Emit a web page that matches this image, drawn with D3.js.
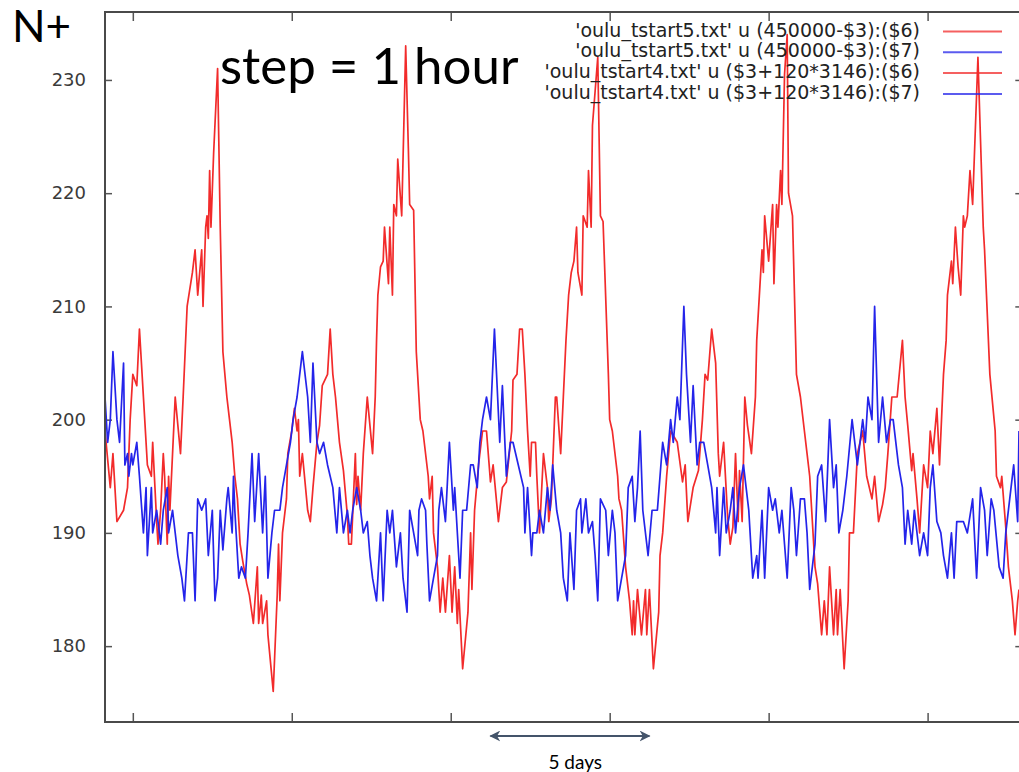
<!DOCTYPE html>
<html>
<head>
<meta charset="utf-8">
<script src="https://cdn.jsdelivr.net/npm/d3@7"></script>
<style>
  body { margin: 0; background: #fff; }
  svg { display: block; }
</style>
</head>
<body>
<svg id="chart" width="1019" height="772"></svg>
<script>
// [hour, N+], step = 1 hour
const red5 = [[0,199],[4,194],[6,197],[9,191],[14,192],[17,194],[19,200],[21,204],[24,203],[26,208],[30,200],[32,196],[35,195],[36,198],[39,191],[40,189],[42,192],[44,197],[45,195],[47,189],[48,195],[49,192],[51,197],[53,202],[57,197],[59,202],[62,210],[66,213],[68,215],[70,211],[73,215],[74,210],[76,217],[77,218],[78,216],[79,222],[80,217],[82,223.5],[85,231],[87,217],[89,206],[92,202],[94,200],[96,198],[98,195],[100,193],[102,189],[104,187.5],[107,185.5],[109,184.5],[112,182],[115,187],[116,182],[118,184.5],[119,182],[122,184],[123,181],[127,176],[130,184.5],[131,189],[132,184],[134,190],[137,193],[138,197],[141,199],[143,201],[145,199],[146,200],[147,195],[149,197],[153,192],[155,191],[157,194],[160,198],[162,199.5],[164,203],[168,204],[170,208],[172,204],[174,202],[177,198],[180,195.5],[183,191.5],[184,189],[186,189],[189,197],[190,192.5],[191,195],[193,192],[195,197],[198,202],[200,199.5],[202,197],[204,202],[205,207],[206,211],[208,213.5],[210,214],[211,217],[214,212],[215,217],[217,211],[218,219],[220,218],[221,223],[224,218],[227,233],[229,224],[230,219],[233,218.5],[235,206],[238,200],[240,199],[244,195],[245,193],[247,195],[248,190],[251,187],[253,183],[255,186],[257,183],[260,188],[262,183],[264,187],[266,182],[267,185],[270,178],[274,183],[276,190],[277,185],[279,192],[282,196],[285,199],[288,199],[291,194.5],[293,196],[297,191],[300,194],[303,194.5],[307,199],[308,203.5],[311,204],[313,208],[315,208],[317,204],[319,199],[321,195],[322,198],[325,198],[326,195],[328,190],[331,197],[334,194],[335,191],[337,193],[340,202],[341,202],[344,197],[346,202]];

const blue5 = [[0,202],[2,198],[4,200],[6,206],[9,200],[11,198],[14,205],[15,196],[17,197],[18,195],[20,197],[21,196],[24,198],[26,195],[29,190],[31,194],[32,188],[35,194],[36,190],[39,192],[42,189],[44,192],[47,194],[48,190],[51,192],[53,190],[55,188],[58,186],[60,184],[63,190],[66,190],[68,184],[70,193],[73,192],[76,193],[78,188],[81,192],[83,184],[85,186],[87,192],[89,188.5],[92,193],[93,194],[96,190],[97,195],[98,192],[101,186],[103,187],[106,186],[108,190],[111,197],[113,191],[116,197],[119,190],[121,195],[123,186],[126,190],[128,192],[132,192],[134,194],[137,196],[140,198],[142,200],[145,202],[147,204],[149,206],[153,202],[155,198],[157,205],[160,198],[162,197],[165,198],[168,196],[170,195],[172,194],[175,190],[177,194],[180,190],[183,192],[185,190],[187,192],[190,194],[193,192],[195,190],[198,191],[200,188],[202,186],[205,184],[208,190],[210,184],[213,192],[215,190],[217,192],[220,187],[223,190],[225,186],[228,183],[230,192],[233,190],[236,188],[237,192],[239,193],[242,192],[243,189],[245,184],[248,186],[251,188],[252,192],[254,194],[257,191],[260,198],[263,192],[264,194],[268,186],[270,192],[273,192],[276,196],[278,196],[281,194],[283,198],[285,200],[288,202],[291,200],[294,208],[298,198],[300,203],[303,195],[306,198],[308,198],[312,196],[316,194],[317,190],[319,194],[322,188],[323,190],[326,190],[328,192],[331,190],[334,194],[336,192],[338,196],[341,192],[344,190],[346,186]];

const red4 = [[346,202],[348,207],[350,211],[352,213],[354,214],[356,217],[357,213],[360,211],[361,218],[364,217],[365,222],[367,217],[368,226],[372,232],[374,218],[376,217.5],[380,204],[381,200],[383,199],[387,195],[388,193],[390,192],[393,187],[394,186],[396,184],[398,181],[399,184],[400,181],[402,185],[405,181],[408,185],[409,181],[411,185],[414,178],[418,183],[419,188],[421,190],[424,195],[427,199],[432,198],[436,194.5],[438,196],[440,191],[444,194],[448,195.5],[451,200],[453,204],[455,203.5],[458,208],[461,205],[463,197],[464,195],[467,198],[470,191.5],[472,189],[474,190.5],[476,197],[478,191],[479,195.5],[481,191],[483,202],[485,199.5],[488,197],[491,202],[492,207],[494,211],[496,215],[497,213],[498,218],[501,214],[504,219],[505,212],[507,219],[508,217],[510,222],[511,219],[513,230.5],[515,234],[516,220],[519,218],[522,204],[525,202],[528,199],[530,197],[532,195],[534,191],[536,187],[538,185.5],[541,181],[543,184],[545,181],[547,187],[550,181],[552,185],[553,181],[555,185],[558,178],[561,184],[562,190],[565,190],[568,197],[570,198],[572,199],[575,195],[579,193],[581,195],[584,191],[587,192.5],[589,194],[591,197],[594,202],[598,202],[602,207],[604,202],[606,199.5],[609,195.5],[610,197],[613,193],[615,190],[618,196],[621,194],[623,199],[625,197],[628,201],[630,196],[633,204],[635,207],[636,211],[639,214],[640,212],[642,217],[644,213.5],[646,211],[648,218],[649,217],[651,218],[653,222],[655,219],[659,232],[663,217],[664,215],[668,204],[672,199],[673,195],[676,194],[677,195],[680,190.5],[682,187],[685,184],[687,181],[689,184],[690,185]];

const blue4 = [[346,186],[349,184],[351,190],[354,185],[356,192],[359,193],[360,190],[363,193],[365,190],[368,191],[370,188],[372,184],[374,193],[378,192],[380,188],[383,192],[385,190],[387,184],[390,186],[393,188],[395,194],[398,195],[400,191],[402,194],[404,199],[406,192],[410,188],[413,192],[417,192],[419,195],[421,198],[424,196],[427,200],[429,198],[432,202],[434,200],[437,210],[439,204],[442,198],[444,203],[447,196],[449,198],[452,198],[455,196],[458,194],[461,190],[462,194],[464,188],[467,194],[469,190],[472,192],[474,194],[476,190],[479,194],[482,196],[484,194],[486,192],[489,186],[492,188],[493,186],[496,192],[498,186],[501,194],[504,192],[506,193],[509,190],[511,192],[513,189],[515,186],[518,194],[520,192],[522,188],[525,193],[528,193],[530,190],[532,185],[536,189],[538,195],[541,196],[544,191],[547,200],[550,194],[552,196],[554,190],[557,192],[560,195],[564,200],[566,198],[568,196],[572,200],[574,198],[576,202],[579,200],[581,210],[584,198],[587,202],[590,198],[593,200],[595,200],[599,196],[602,194],[604,189],[606,192],[609,189],[611,192],[615,188],[618,190],[621,188],[623,194],[625,196],[628,191],[631,190],[633,188],[636,186],[639,190],[641,186],[643,191],[648,191],[651,190],[655,193],[658,186],[661,194],[664,192],[666,188],[669,193],[671,192],[675,187],[678,186],[680,190],[683,193],[686,196],[689,191],[690,199]];

const yTicks = [180, 190, 200, 210, 220, 230];
const xTicks = [21, 141, 261, 381, 501, 621];   // every 5 days
const legendLabels = [
  "'oulu_tstart5.txt' u (450000-$3):($6)",
  "'oulu_tstart5.txt' u (450000-$3):($7)",
  "'oulu_tstart4.txt' u ($3+120*3146):($6)",
  "'oulu_tstart4.txt' u ($3+120*3146):($7)"
];
const spanDays = [291, 411];  // "5 days" arrow, in hours

const RED = "#f22b2b", BLUE = "#2424ea";
const series = [
  { data: red5, color: RED },
  { data: blue5, color: BLUE },
  { data: red4, color: RED },
  { data: blue4, color: BLUE }
];

const svg = d3.select("#chart");
const plotLeft = 105, plotTop = 12, plotBottom = 722;
const gnuFont = "'DejaVu Sans', sans-serif";

const x = d3.scaleLinear().domain([0, 690]).range([plotLeft, 1019]);
const y = d3.scaleLinear().domain([173.3, 236]).range([plotBottom, plotTop]);
const plotRight = x(694);

svg.append("clipPath").attr("id", "clip")
  .append("rect")
  .attr("x", plotLeft).attr("y", plotTop)
  .attr("width", plotRight - plotLeft).attr("height", plotBottom - plotTop);

// axes (ticks point inwards, gnuplot style)
const tickStyle = g => {
  g.select(".domain").remove();
  g.selectAll(".tick line").attr("stroke", "#555").attr("stroke-width", 1.5);
  g.selectAll(".tick text")
    .attr("fill", "#3a3a3a")
    .style("font-family", gnuFont)
    .style("font-size", "18px");
};

svg.append("g")
  .attr("transform", `translate(${plotLeft},0)`)
  .call(d3.axisLeft(y).tickValues(yTicks).tickSize(-7).tickPadding(19))
  .call(tickStyle);

svg.append("g")
  .attr("transform", `translate(${plotRight},0)`)
  .call(d3.axisRight(y).tickValues(yTicks).tickSize(-9).tickFormat(""))
  .call(tickStyle);

svg.append("g")
  .attr("transform", `translate(0,${plotBottom})`)
  .call(d3.axisBottom(x).tickValues(xTicks).tickSize(-9).tickFormat(""))
  .call(tickStyle);

svg.append("g")
  .attr("transform", `translate(0,${plotTop})`)
  .call(d3.axisTop(x).tickValues(xTicks).tickSize(-9).tickFormat(""))
  .call(tickStyle);

// lines
const line = d3.line().x(d => x(d[0])).y(d => y(d[1]));
svg.append("g").attr("clip-path", "url(#clip)")
  .selectAll("path")
  .data(series)
  .join("path")
  .attr("d", d => line(d.data))
  .attr("fill", "none")
  .attr("stroke", d => d.color)
  .attr("stroke-width", 1.7)
  .attr("stroke-linejoin", "round");

// frame
svg.append("rect")
  .attr("x", plotLeft).attr("y", plotTop)
  .attr("width", plotRight - plotLeft).attr("height", plotBottom - plotTop)
  .attr("fill", "none")
  .attr("stroke", "#4a4a4a")
  .attr("stroke-width", 2);

// legend
const legend = svg.append("g");
legendLabels.forEach((label, i) => {
  const ry = 31.5 + i * 20.8;
  legend.append("text")
    .attr("x", 920).attr("y", ry + 5)
    .attr("text-anchor", "end")
    .attr("fill", "#222")
    .style("font-family", gnuFont)
    .style("font-size", "19px")
    .text(label);
  legend.append("line")
    .attr("x1", 943).attr("x2", 1002)
    .attr("y1", ry).attr("y2", ry)
    .attr("stroke", series[i].color)
    .attr("stroke-opacity", 0.75)
    .attr("stroke-width", 2);
});

// annotations
const annoFont = "Lato, 'Open Sans', sans-serif";
svg.append("text")
  .attr("x", 12).attr("y", 42)
  .style("font-family", annoFont).style("font-size", "44px")
  .attr("fill", "#000")
  .text("N+");

svg.append("text")
  .attr("x", 220).attr("y", 84)
  .style("font-family", annoFont).style("font-size", "51px")
  .attr("fill", "#000")
  .text("step = 1 hour");

const defs = svg.append("defs");
["start", "end"].forEach(k => {
  defs.append("marker")
    .attr("id", "arrow-" + k)
    .attr("viewBox", "0 0 10 10")
    .attr("refX", 9).attr("refY", 5)
    .attr("markerWidth", 5.5).attr("markerHeight", 5.5)
    .attr("markerUnits", "strokeWidth")
    .attr("orient", k === "start" ? "auto-start-reverse" : "auto")
    .append("path")
    .attr("d", "M0,0 L10,5 L0,10 L3,5 Z")
    .attr("fill", "#44546a");
});

svg.append("line")
  .attr("x1", x(spanDays[0])).attr("x2", x(spanDays[1]))
  .attr("y1", 736).attr("y2", 736)
  .attr("stroke", "#44546a")
  .attr("stroke-width", 2)
  .attr("marker-start", "url(#arrow-start)")
  .attr("marker-end", "url(#arrow-end)");

svg.append("text")
  .attr("x", x(355)).attr("y", 769)
  .attr("text-anchor", "middle")
  .style("font-family", annoFont).style("font-size", "19px")
  .attr("fill", "#000")
  .text("5 days");
</script>
</body>
</html>
